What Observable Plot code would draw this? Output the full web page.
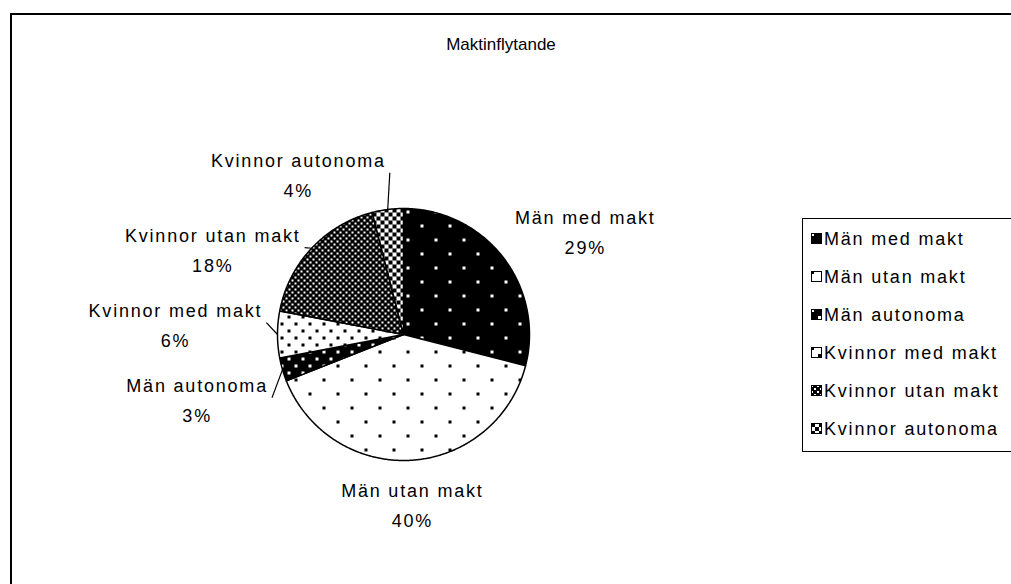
<!DOCTYPE html>
<html><head><meta charset="utf-8">
<script src="https://cdn.jsdelivr.net/npm/d3@7"></script>
<script src="https://cdn.jsdelivr.net/npm/@observablehq/plot@0.6"></script>
<style>
html,body{margin:0;padding:0;background:#fff;overflow:hidden;width:1011px;height:584px;}
#wrap{position:relative;width:1011px;height:584px;overflow:hidden;}
#frame{position:absolute;left:10px;top:13px;width:1100px;height:700px;border:2px solid #000;box-sizing:border-box;pointer-events:none;}
#chart{position:absolute;left:0;top:0;}
#chart svg text{font-family:"Liberation Sans",Arial,sans-serif;letter-spacing:1.8px;}
#title{position:absolute;left:0;width:1002px;top:35px;text-align:center;font-family:"Liberation Sans",Arial,sans-serif;font-size:17px;}
#legend{position:absolute;left:802px;top:218px;width:260px;height:234px;border:1.5px solid #000;box-sizing:border-box;font-family:"Liberation Sans",Arial,sans-serif;font-size:18px;letter-spacing:1.8px;background:#fff;}
.row{position:absolute;left:8px;height:24px;display:flex;align-items:center;white-space:nowrap;}
.row svg{margin-right:1px;}
</style></head>
<body><div id="wrap"><div id="chart"></div><div id="frame"></div><div id="title"></div><div id="legend"></div></div>
<script>
// ---- data ----
const categories = ["Män med makt", "Män utan makt", "Män autonoma", "Kvinnor med makt", "Kvinnor utan makt", "Kvinnor autonoma"];
const shares = [29, 40, 3, 6, 18, 4];
const titleText = "Maktinflytande";

// ---- layout ----
const W = 1011, H = 584, CX = 403, CY = 334, R = 126;
const LABEL_R = 1.12;
const LINE_PX = 30;          // line spacing of the two-line labels
const MIN_GAP = 75;          // minimum vertical distance between label centres on one side
const FONT = '18px "Liberation Sans", Arial, sans-serif';
const LS = 1.8;

const patternIds = categories.map((_, i) => `pat${i}`);
const patternUrls = patternIds.map(id => `url(#${id})`);

const arcs = d3.pie().sort(null).value(d => d)(shares);

// slice polygons in unit coordinates (y up)
const slicePts = [];
arcs.forEach((a, i) => {
  const name = categories[i];
  slicePts.push({name, x: 0, y: 0});
  const n = Math.max(2, Math.ceil((a.endAngle - a.startAngle) / 0.01));
  for (let k = 0; k <= n; k++) {
    const t = a.startAngle + (a.endAngle - a.startAngle) * k / n;
    slicePts.push({name, x: Math.sin(t), y: Math.cos(t)});
  }
  slicePts.push({name, x: 0, y: 0});
});

// label measurement
const ctx = document.createElement("canvas").getContext("2d");
ctx.font = FONT;
const tw = s => ctx.measureText(s).width + LS * s.length;

const labels = arcs.map((a, i) => {
  const mid = (a.startAngle + a.endAngle) / 2;
  const s = Math.sin(mid), c = Math.cos(mid);
  const lines = [categories[i], `${shares[i]}%`];
  const w = Math.max(...lines.map(tw));
  const ax = LABEL_R * s, ay = LABEL_R * c;
  let side;
  if (s > 0.15) side = "right";
  else if (s < -0.1) side = "left";
  else side = c < 0 ? "bottom" : "top";
  // centre of block in pixels
  let px = CX + ax * R, py = CY - ay * R;
  if (side === "right") { px += w / 2; py -= c * LINE_PX; }
  else if (side === "left") { px -= w / 2; }
  return {name: categories[i], value: shares[i], text: lines.join("\n"), w, side, s, c, ax, ay, px, py};
});

// simple vertical relaxation per side so blocks don't overlap
for (const side of ["left", "right"]) {
  const group = labels.filter(d => d.side === side).sort((a, b) => a.py - b.py);
  for (let iter = 0; iter < 50; iter++) {
    let moved = false;
    for (let k = 1; k < group.length; k++) {
      const d = group[k].py - group[k - 1].py;
      if (d < MIN_GAP) {
        const push = (MIN_GAP - d) / 2;
        group[k - 1].py -= push; group[k].py += push; moved = true;
      }
    }
    if (!moved) break;
  }
}
labels.forEach(d => {
  d.lx = (d.px - CX) / R;
  d.ly = (CY - d.py) / R;
});

// leader lines for small slices: from the slice edge to the near side of the label
const GAP = 4;
const leaders = labels.filter(d => d.value < 20).map(d => {
  const dir = d.side === "left" ? -1 : d.side === "right" ? 1 : 0;
  const endX = d.side === "left" || d.side === "right" ? d.lx - dir * (d.w / 2 + GAP) / R : d.lx;
  const endY = d.side === "left" || d.side === "right" ? d.ly : d.ly + (d.c < 0 ? 1 : -1) * (LINE_PX) / R;
  return {x1: d.s, y1: d.c, x2: endX, y2: endY};
});

const textOpts = {x: "lx", y: "ly", text: "text", fontSize: 18, lineHeight: LINE_PX / 18, textAnchor: "middle", fill: "#000"};

const svg = Plot.plot({
  width: W, height: H,
  margin: 0,
  x: {axis: null, domain: [-CX / R, (W - CX) / R], range: [0, W]},
  y: {axis: null, domain: [CY / R, (CY - H) / R], range: [0, H]},
  color: {type: "ordinal", domain: categories, range: patternUrls},
  marks: [
    Plot.line(slicePts, {x: "x", y: "y", z: "name", fill: "name", stroke: "#000", strokeWidth: 1.5, strokeLinejoin: "round"}),
    Plot.link(leaders, {x1: "x1", y1: "y1", x2: "x2", y2: "y2", stroke: "#000", strokeWidth: 1.2}),
    Plot.text(labels.filter(d => d.side === "left" || d.side === "right"), {...textOpts, lineAnchor: "middle"}),
    Plot.text(labels.filter(d => d.side === "bottom"), {...textOpts, lineAnchor: "top"}),
    Plot.text(labels.filter(d => d.side === "top"), {...textOpts, lineAnchor: "bottom"})
  ]
});

// pattern definitions
const patternSpecs = [
  {size: 28, bg: "#000", fg: "#fff", cells: [[0, 0, 3], [14, 14, 3]]},
  {size: 28, bg: "#fff", fg: "#000", cells: [[0, 0, 3], [14, 14, 3]]},
  {size: 14, bg: "#000", fg: "#fff", cells: [[0, 0, 3], [7, 7, 3]]},
  {size: 14, bg: "#fff", fg: "#000", cells: [[0, 0, 3], [7, 7, 3]]},
  {size: 6, bg: "#000", fg: "#fff", cells: [[0, 0, 2], [3, 3, 2]]},
  {size: 8, bg: "#fff", fg: "#000", cells: [[0, 0, 4], [4, 4, 4]]}
];
const defs = d3.select(svg).insert("defs", ":first-child");
patternSpecs.forEach((p, i) => {
  const pat = defs.append("pattern").attr("id", patternIds[i]).attr("patternUnits", "userSpaceOnUse")
    .attr("width", p.size).attr("height", p.size);
  pat.append("rect").attr("width", p.size).attr("height", p.size).attr("fill", p.bg);
  p.cells.forEach(([x, y, s]) => pat.append("rect").attr("x", x).attr("y", y).attr("width", s).attr("height", s).attr("fill", p.fg));
});
document.getElementById("chart").appendChild(svg);
document.getElementById("title").textContent = titleText;

// legend
const legend = d3.select("#legend");
categories.forEach((c, i) => {
  const row = legend.append("div").attr("class", "row").style("top", `${8 + i * 38}px`);
  const sw = row.append("svg").attr("width", 12).attr("height", 12);
  sw.append("rect").attr("x", 0.5).attr("y", 0.5).attr("width", 10).attr("height", 10)
    .attr("fill", patternUrls[i]).attr("stroke", "#000").attr("stroke-width", 1);
  row.append("span").text(c);
});
</script>
</body></html>
